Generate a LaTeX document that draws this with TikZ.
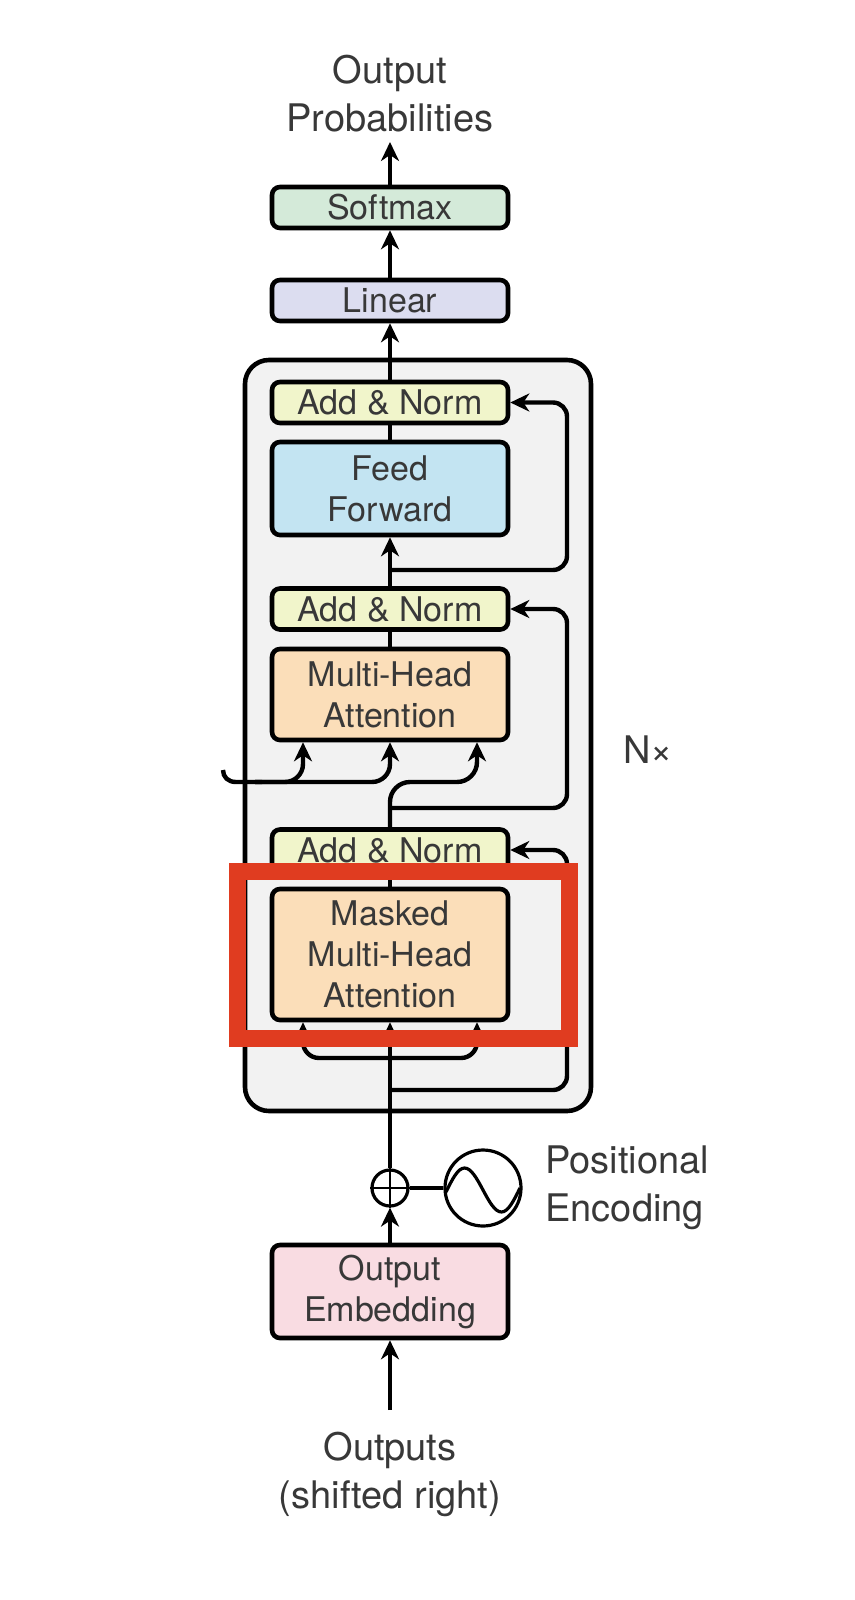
\documentclass[tikz,border=0pt]{standalone}
\usepackage{fontspec}
\setmainfont{TeX Gyre Heros}
\usetikzlibrary{positioning,arrows.meta}

\definecolor{smx}{HTML}{D4EAD9}
\definecolor{lin}{HTML}{DCDDF0}
\definecolor{adn}{HTML}{F1F5CB}
\definecolor{ffw}{HTML}{C3E4F2}
\definecolor{att}{HTML}{FBDEB9}
\definecolor{emb}{HTML}{F9DCE2}
\definecolor{hl}{HTML}{E03C20}

\begin{document}
\begin{tikzpicture}[x=0.5pt, y=-0.5pt,
    block/.style   = {draw, rounded corners=4pt, line width=2.3pt, minimum width=118pt,
                      inner sep=0pt, align=center, text=black!78,
                      font=\fontsize{17}{20.5}\selectfont},
    flat/.style    = {block, minimum height=20.5pt},
    tall/.style    = {block, minimum height=46.5pt},
    label/.style   = {align=center, inner sep=0pt, text=black!78,
                      font=\fontsize{19}{24}\selectfont},
    line/.style    = {line width=2.2pt},
    arr/.style     = {line, -{Stealth[length=9.5pt, width=9pt, inset=3pt]}},
    layer/.style   = {draw, line width=2.3pt, rounded corners=12pt, fill=black!5,
                      minimum width=173pt, minimum height=375.5pt},
    hilite/.style  = {draw=hl, line width=8.5pt},
]

\useasboundingbox (0,0) rectangle (855,1600);

% --- decoder layer background ---
\node[layer] (dec) at (418,735.5) {};

% --- boxes ---
\node[flat, fill=smx] (softmax) at (390,207.5)  {Softmax};
\node[flat, fill=lin] (linear)  at (390,300.5)  {Linear};
\node[flat, fill=adn] (addn1)   at (390,402.5)  {Add \& Norm};
\node[tall, fill=ffw] (ff)      at (390,488.5)  {Feed\\Forward};
\node[flat, fill=adn] (addn2)   at (390,609)    {Add \& Norm};
\node[block, fill=att, minimum height=45.5pt] (mha) at (390,694.5) {Multi-Head\\Attention};
\node[flat, fill=adn] (addn3)   at (390,850)    {Add \& Norm};
\node[block, fill=att, minimum height=65.5pt] (mmha) at (390,954.5) {Masked\\Multi-Head\\Attention};
\node[tall, fill=emb] (embed)   at (390,1291.5) {Output\\Embedding};

% --- positional encoding ---
\node[circle, draw, line width=1.6pt, minimum size=18pt, inner sep=0pt] (plus) at (390,1188) {};
\draw[line width=1.4pt] (plus.north) -- (plus.south) (plus.west) -- (plus.east);
\node[circle, draw, line width=1.6pt, minimum size=38pt, inner sep=0pt] (pe) at (483,1188) {};
\draw[line width=1.6pt] (446,1192) sin (464.5,1168) cos (483,1190) sin (501.5,1212) cos (520,1188);

% --- labels ---
\node[label] (probs) at (390,94)   {Output\\Probabilities};
\node[label] (outs)  at (390,1474) {Outputs\\(shifted right)};
\node[label, anchor=west, align=left] (pelbl) at (545,1188) {Positional\\Encoding};
\node[label] (nx)    at (648,750)  {N×};

% --- free ends and turning points ---
\coordinate (top)   at (390,142);
\coordinate (inp)   at (390,1410);
\coordinate (enc)   at (223,770);
\coordinate (loopx) at (567,0);
\coordinate (r1)    at (390,570);
\coordinate (r2)    at (390,808);
\coordinate (r3)    at (390,1090);
\coordinate (kx)    at (303,782);
\coordinate (vx)    at (477,782);
\coordinate (qm)    at (390,1058);
\coordinate (ql)    at (303,1058);
\coordinate (qr)    at (477,1058);

% --- main path ---
\draw[arr]  (inp) -- (embed);
\draw[arr]  (embed) -- (plus);
\draw[line] (plus) -- (pe);
\draw[arr]  (plus) -- (mmha);
\draw[line] (mmha) -- (addn3);
\draw[line] (mha) -- (addn2);
\draw[arr]  (addn2) -- (ff);
\draw[line] (ff) -- (addn1);
\draw[arr]  (addn1) -- (linear);
\draw[arr]  (linear) -- (softmax);
\draw[arr]  (softmax) -- (top);

% --- attention inputs ---
\draw[arr, rounded corners=8pt] (qm) -| (mmha.south -| ql);
\draw[arr, rounded corners=8pt] (qm) -| (mmha.south -| qr);
\draw[arr, rounded corners=10pt] (addn3) |- (vx) -- (mha.south -| vx);
\draw[line] (enc) .. controls (223,777) and (228,782) .. (236,782) -- (262,782);
\draw[arr, rounded corners=9pt] (255,782) -| (mha.south);
\draw[arr, rounded corners=9pt] (255,782) -| (mha.south -| kx);

% --- residual connections ---
\draw[arr, rounded corners=7pt] (r1) -| (addn1.east -| loopx) -- (addn1.east);
\draw[arr, rounded corners=7pt] (r2) -| (addn2.east -| loopx) -- (addn2.east);
\draw[arr, rounded corners=7pt] (r3) -| (addn3.east -| loopx) -- (addn3.east);

% --- highlight ---
\draw[hilite] (237,871) rectangle (569,1038);

\end{tikzpicture}
\end{document}
